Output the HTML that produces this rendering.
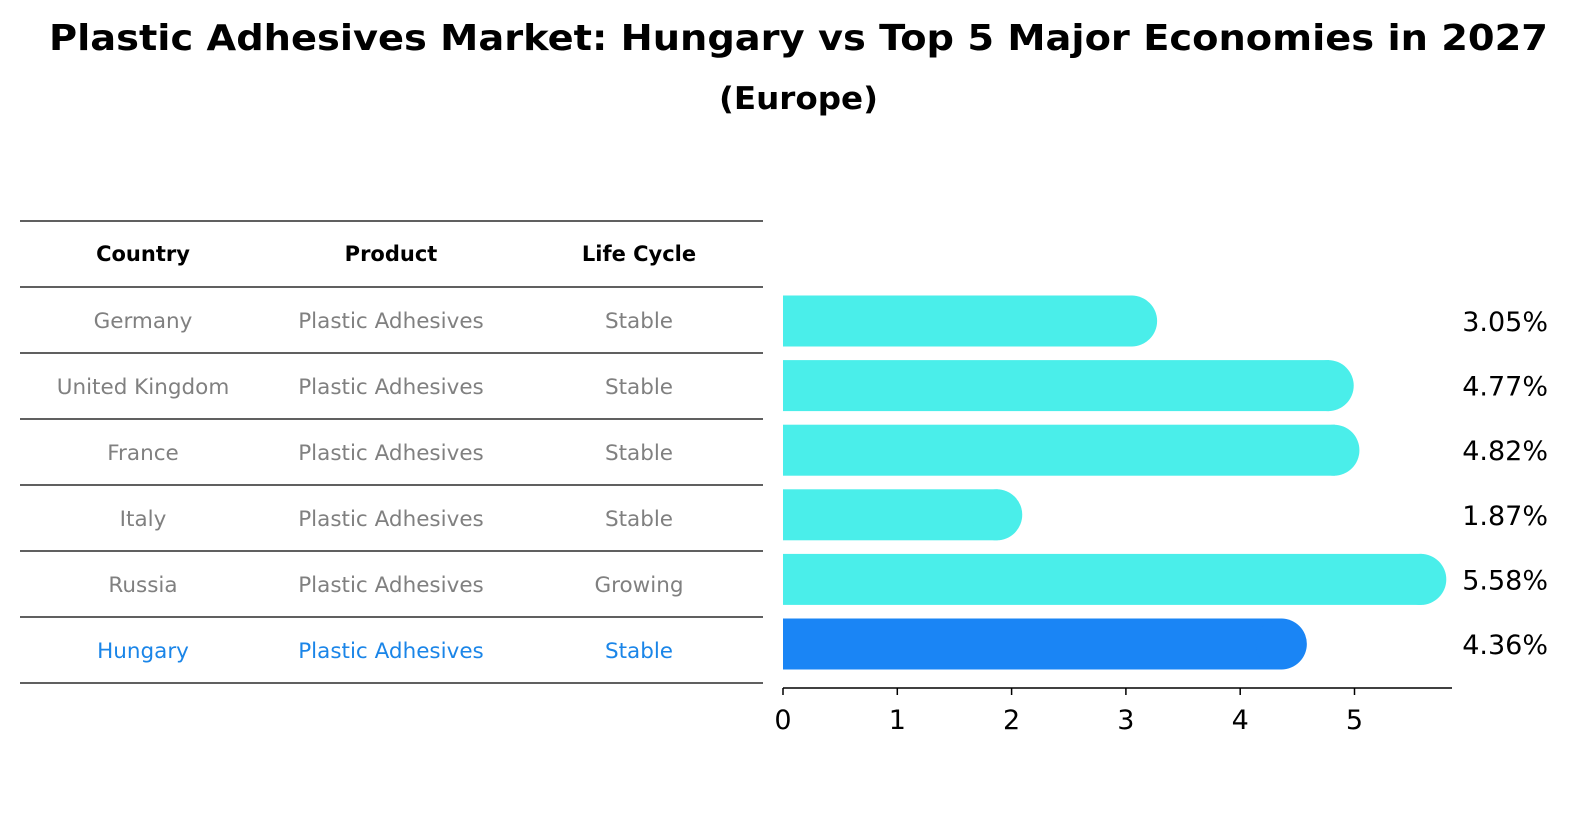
<!DOCTYPE html>
<html><head><meta charset="utf-8"><style>
body{margin:0;background:#fff;font-family:"DejaVu Sans","Liberation Sans",sans-serif;}
svg text{font-family:"DejaVu Sans","Liberation Sans",sans-serif;}
</style></head><body>
<svg id="c" width="1586" height="823" viewBox="0 0 1586 823">
<text x="49" y="50" font-size="36" font-weight="bold" textLength="1499" lengthAdjust="spacingAndGlyphs">Plastic Adhesives Market: Hungary vs Top 5 Major Economies in 2027</text>
<text x="719" y="109" font-size="31" font-weight="bold" textLength="159" lengthAdjust="spacingAndGlyphs">(Europe)</text>
<g id="tbl"></g>
<g id="bars"></g>
</svg>
<script>
const countries=["Germany","United Kingdom","France","Italy","Russia","Hungary"];
const products=["Plastic Adhesives","Plastic Adhesives","Plastic Adhesives","Plastic Adhesives","Plastic Adhesives","Plastic Adhesives"];
const lifeCycles=["Stable","Stable","Stable","Stable","Growing","Stable"];
const values=[3.05,4.77,4.82,1.87,5.58,4.36];
const valueLabels=["3.05%","4.77%","4.82%","1.87%","5.58%","4.36%"];
const ticks=[0,1,2,3,4,5];

const NS="http://www.w3.org/2000/svg";
function mk(t,a,p){const e=document.createElementNS(NS,t);for(const k in a)e.setAttribute(k,a[k]);p.appendChild(e);return e;}
const tbl=document.getElementById('tbl'), bars=document.getElementById('bars');
const rowTop=287, rowH=66, headerY=254;
const colX=[143,391,639];
const lineYs=[221,287];
for(let i=1;i<=countries.length;i++)lineYs.push(rowTop+i*rowH);
lineYs.forEach((y,i)=>{const l=mk('line',{x1:20,x2:763,y1:y,y2:y,stroke:'#000','stroke-width':1.2},tbl);

});
["Country","Product","Life Cycle"].forEach((h,i)=>{const t=mk('text',{x:colX[i],y:headerY+7,'text-anchor':'middle','font-size':21,'font-weight':'bold'},tbl);t.textContent=h;

});
countries.forEach((c,i)=>{const y=rowTop+rowH*i+rowH/2+8;const col=i===countries.length-1?'#1a85e8':'#808080';
[c,products[i],lifeCycles[i]].forEach((v,j)=>{const t=mk('text',{x:colX[j],y:y,'text-anchor':'middle','font-size':21.5,fill:col},tbl);t.textContent=v;

});});
const x0=783, pxU=114.3;
const xs=v=>x0+v*pxU;
const cy0=321, step=64.6, bh=51;
values.forEach((v,i)=>{const cy=cy0+step*i;const hu=i===values.length-1;const col=hu?'#1a85f5':'#4aeeea';
const g=mk('g',{},bars);


mk('rect',{x:x0,y:cy-bh/2,width:xs(v)-x0+1,height:bh,fill:col},g);
mk('circle',{cx:xs(v),cy:cy,r:bh/2,fill:col},g);
const t=mk('text',{x:1548,y:cy+10,'text-anchor':'end','font-size':27},bars);t.textContent=valueLabels[i];

});
const ax=mk('line',{x1:x0,x2:1452,y1:688,y2:688,stroke:'#000','stroke-width':1.5},bars);


ticks.forEach(v=>{const l=mk('line',{x1:xs(v),x2:xs(v),y1:688,y2:695,stroke:'#000','stroke-width':1.5},bars);


const t=mk('text',{x:xs(v),y:729,'text-anchor':'middle','font-size':27},bars);t.textContent=v;

});
</script>
</body></html>
